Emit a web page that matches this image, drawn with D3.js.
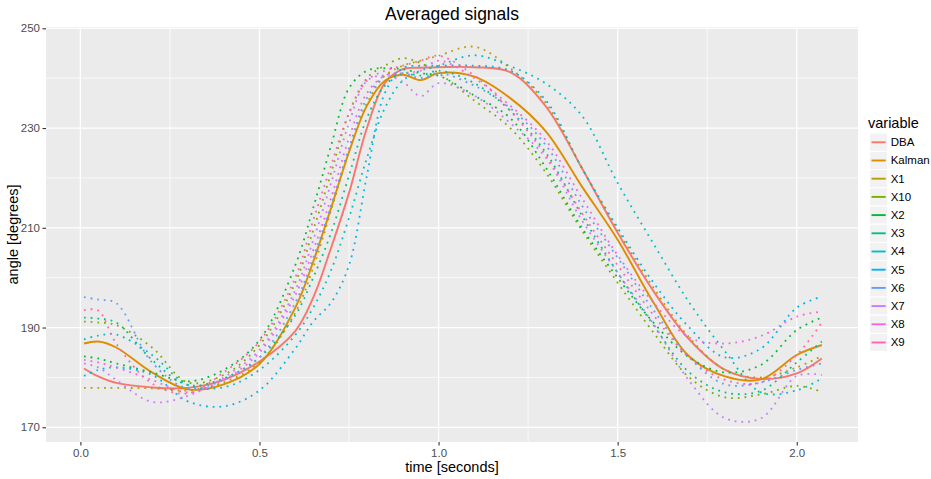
<!DOCTYPE html>
<html lang="en">
<head>
  <meta charset="UTF-8">
  <title>Averaged signals</title>
  <style>
    body { margin: 0; padding: 0; background: #ffffff; }
    svg { display: block; font-family: "Liberation Sans", Arial, Helvetica, sans-serif; }
    .tick-label { fill: #4d4d4d; font-size: 11.5px; }
    .axis-title { fill: #000000; font-size: 14.5px; }
    .legend-label { fill: #000000; font-size: 11.5px; }
  </style>
</head>
<body>

<div id="chart"></div>

<script src="https://d3js.org/d3.v7.min.js"></script>
<script>
  // Data
  const time = [0.01, 0.05, 0.1, 0.2, 0.3, 0.4, 0.5, 0.6, 0.65, 0.7, 0.75, 0.8, 0.85, 0.9, 0.95,
                1.0, 1.1, 1.2, 1.3, 1.4, 1.5, 1.6, 1.7, 1.8, 1.9, 2.0, 2.07];

  const variables = ["DBA", "Kalman", "X1", "X10", "X2", "X3", "X4", "X5", "X6", "X7", "X8", "X9"];
  const colors = ["#F8766D", "#DE8C00", "#B79F00", "#7CAE00", "#00BA38", "#00C08B",
                  "#00BFC4", "#00B4F0", "#619CFF", "#C77CFF", "#F564E3", "#FF64B0"];

  const DBA    = [181.8, 180.2, 178.9, 178.0, 177.9, 179.5, 183.2, 189.3, 196.0, 206.0, 217.0, 230.0, 239.0, 241.8, 242.1,
                  242.2, 242.2, 241.2, 234.3, 222.0, 209.0, 197.3, 187.6, 181.5, 179.7, 180.8, 183.8];
  const Kalman = [186.8, 187.2, 186.0, 181.0, 177.6, 178.6, 182.7, 194.0, 203.2, 214.0, 225.2, 234.5, 239.5, 240.7, 239.6,
                  241.0, 240.3, 236.0, 229.3, 218.3, 207.6, 195.0, 184.2, 180.2, 179.6, 184.5, 186.5];
  const X1  = [177.9, 177.9, 177.9, 177.8, 177.4, 179.0, 183.0, 193.0, 202.0, 213.5, 225.5, 235.0, 240.5, 242.5, 243.5,
               244.5, 246.3, 242.0, 235.0, 222.0, 209.5, 198.0, 188.0, 181.5, 180.0, 182.0, 184.3];
  const X10 = [191.2, 191.0, 190.5, 186.0, 179.0, 180.5, 186.5, 199.0, 209.5, 221.0, 233.0, 240.0, 242.5, 244.0, 243.0,
               241.0, 235.5, 230.0, 221.0, 209.5, 199.0, 189.0, 180.0, 176.0, 176.6, 178.3, 177.1];
  const X2  = [184.2, 183.8, 182.8, 181.0, 179.2, 181.5, 187.5, 202.5, 214.0, 226.5, 238.0, 241.5, 242.0, 241.8, 241.0,
               240.5, 236.5, 232.0, 222.0, 210.0, 200.0, 191.0, 184.0, 181.0, 182.5, 189.5, 192.0];
  const X3  = [192.0, 191.8, 191.0, 183.5, 178.5, 179.8, 184.0, 192.5, 200.0, 209.0, 220.5, 232.0, 238.5, 241.0, 240.5,
               241.5, 239.0, 233.5, 225.0, 212.5, 201.0, 190.5, 181.0, 177.0, 177.3, 183.0, 187.2];
  const X4  = [187.6, 188.4, 188.6, 184.5, 178.5, 178.0, 181.5, 188.5, 194.0, 201.5, 212.0, 224.0, 234.0, 239.5, 241.5,
               242.5, 244.6, 242.4, 238.9, 232.5, 219.0, 206.8, 195.0, 185.2, 177.0, 177.4, 179.8];
  const X5  = [180.3, 181.5, 182.0, 180.5, 175.2, 174.2, 177.4, 185.8, 191.2, 195.0, 202.5, 220.5, 237.0, 242.0, 242.5,
               242.5, 242.5, 241.5, 235.5, 222.0, 210.0, 199.0, 190.0, 184.0, 185.8, 194.0, 196.2];
  const X6  = [196.1, 195.6, 194.9, 183.0, 177.8, 179.5, 184.0, 195.0, 204.0, 214.5, 226.0, 236.0, 240.5, 241.0, 240.0,
               241.0, 238.5, 234.0, 226.5, 214.5, 204.0, 193.5, 184.0, 178.6, 179.0, 181.5, 182.8];
  const X7  = [182.8, 182.0, 179.5, 175.1, 176.3, 180.0, 185.5, 197.5, 207.5, 219.0, 231.0, 239.5, 240.5, 239.3, 236.4,
               239.0, 236.5, 231.0, 224.0, 211.5, 201.0, 190.7, 179.3, 171.8, 171.8, 180.3, 180.5];
  const X8  = [183.5, 183.0, 182.0, 179.5, 177.0, 179.5, 185.0, 196.5, 205.5, 216.0, 228.0, 237.0, 240.5, 241.0, 241.5,
               243.5, 240.0, 234.5, 227.5, 216.0, 204.5, 195.0, 188.0, 186.8, 188.3, 192.2, 193.2];
  const X9  = [193.5, 193.4, 186.8, 178.8, 176.8, 181.0, 187.2, 200.0, 211.5, 222.5, 233.0, 239.5, 241.5, 242.5, 243.5,
               244.5, 240.5, 233.5, 224.5, 213.0, 202.5, 192.5, 184.0, 179.5, 179.0, 184.5, 191.0];

  const seriesValues = [DBA, Kalman, X1, X10, X2, X3, X4, X5, X6, X7, X8, X9];

  const xTicks = [0, 0.5, 1, 1.5, 2];
  const xMinor = [0.25, 0.75, 1.25, 1.75];
  const yTicks = [170, 190, 210, 230, 250];
  const yMinor = [180, 200, 220, 240];

  // Layout
  const width = 931, height = 479;
  const panel = { left: 46, right: 858, top: 27, bottom: 442 };

  const svg = d3.select("#chart").append("svg")
      .attr("width", width)
      .attr("height", height);

  const x = d3.scaleLinear().domain([-0.096, 2.171]).range([panel.left, panel.right]);
  const y = d3.scaleLinear().domain([167.05, 250.26]).range([panel.bottom, panel.top]);

  // Panel background
  svg.append("rect")
      .attr("x", panel.left).attr("y", panel.top)
      .attr("width", panel.right - panel.left)
      .attr("height", panel.bottom - panel.top)
      .attr("fill", "#EBEBEB");

  // Grid lines
  const grid = svg.append("g");
  grid.selectAll(".xminor").data(xMinor).enter().append("line")
      .attr("x1", d => x(d)).attr("x2", d => x(d))
      .attr("y1", panel.top).attr("y2", panel.bottom)
      .attr("stroke", "#fff").attr("stroke-width", 0.7);
  grid.selectAll(".yminor").data(yMinor).enter().append("line")
      .attr("x1", panel.left).attr("x2", panel.right)
      .attr("y1", d => y(d)).attr("y2", d => y(d))
      .attr("stroke", "#fff").attr("stroke-width", 0.7);
  grid.selectAll(".xmajor").data(xTicks).enter().append("line")
      .attr("x1", d => x(d)).attr("x2", d => x(d))
      .attr("y1", panel.top).attr("y2", panel.bottom)
      .attr("stroke", "#fff").attr("stroke-width", 1.3);
  grid.selectAll(".ymajor").data(yTicks).enter().append("line")
      .attr("x1", panel.left).attr("x2", panel.right)
      .attr("y1", d => y(d)).attr("y2", d => y(d))
      .attr("stroke", "#fff").attr("stroke-width", 1.3);

  // Axes
  const xAxis = svg.append("g")
      .attr("transform", `translate(0,${panel.bottom})`)
      .call(d3.axisBottom(x).tickValues(xTicks).tickFormat(d3.format(".1f")).tickSize(3.5).tickPadding(3));
  const yAxis = svg.append("g")
      .attr("transform", `translate(${panel.left},0)`)
      .call(d3.axisLeft(y).tickValues(yTicks).tickSize(3.5).tickPadding(2.5));

  [xAxis, yAxis].forEach(a => {
    a.select(".domain").remove();
    a.selectAll(".tick line").attr("stroke", "#333333").attr("stroke-width", 1.1);
    a.selectAll(".tick text").attr("class", "tick-label")
      .attr("font-family", null).attr("font-size", null);
  });

  // Lines
  const line = d3.line()
      .x((d, i) => x(time[i]))
      .y(d => y(d))
      .curve(d3.curveCatmullRom.alpha(0.5));

  const lines = svg.append("g");
  seriesValues.forEach((vals, k) => {
    const solid = k < 2;
    lines.append("path")
        .datum(vals)
        .attr("d", line)
        .attr("fill", "none")
        .attr("stroke", colors[k])
        .attr("stroke-width", solid ? 1.9 : 1.8)
        .attr("stroke-dasharray", solid ? null : "1.8,4.9");
  });

  // Titles
  svg.append("text")
      .attr("x", (panel.left + panel.right) / 2)
      .attr("y", 20)
      .attr("text-anchor", "middle")
      .attr("font-size", "17.5px")
      .attr("fill", "#000")
      .text("Averaged signals");

  svg.append("text")
      .attr("class", "axis-title")
      .attr("x", (panel.left + panel.right) / 2)
      .attr("y", 472)
      .attr("text-anchor", "middle")
      .text("time [seconds]");

  svg.append("text")
      .attr("class", "axis-title")
      .attr("transform", `translate(18,${(panel.top + panel.bottom) / 2}) rotate(-90)`)
      .attr("text-anchor", "middle")
      .text("angle [degrees]");

  // Legend
  const legend = svg.append("g").attr("transform", "translate(868,0)");
  legend.append("text")
      .attr("class", "axis-title")
      .attr("x", 0).attr("y", 128)
      .text("variable");

  const keySize = 18.2;
  const keyTop = 133.2;
  const keys = legend.selectAll(".key").data(variables).enter().append("g")
      .attr("transform", (d, i) => `translate(1.5,${keyTop + i * keySize})`);
  keys.append("rect")
      .attr("width", keySize).attr("height", keySize)
      .attr("fill", "#F2F2F2").attr("stroke", "#fff").attr("stroke-width", 1);
  keys.append("line")
      .attr("x1", 2).attr("x2", keySize - 2)
      .attr("y1", keySize / 2).attr("y2", keySize / 2)
      .attr("stroke", (d, i) => colors[i])
      .attr("stroke-width", 1.9);
  keys.append("text")
      .attr("class", "legend-label")
      .attr("x", keySize + 3)
      .attr("y", keySize / 2 + 4)
      .text(d => d);
</script>

</body>
</html>
